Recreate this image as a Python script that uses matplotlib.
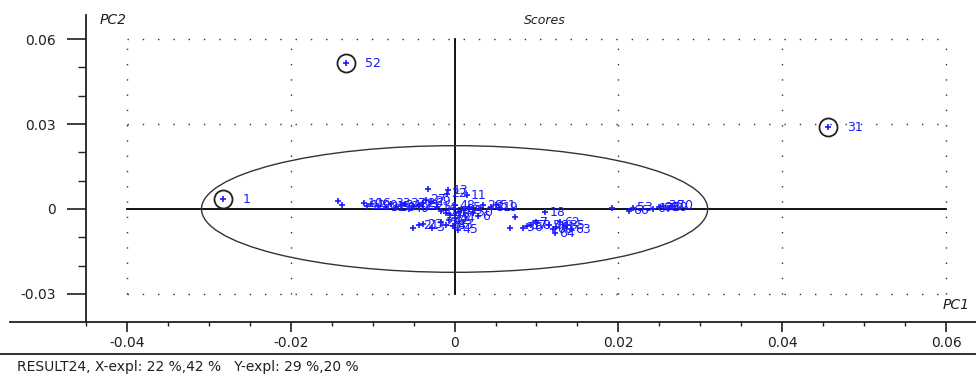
import matplotlib
matplotlib.use("Agg")
import matplotlib.pyplot as plt
from matplotlib.patches import Ellipse
from matplotlib.lines import Line2D

# ---- data ----
pc1 = [-0.0283, -0.0133, 0.0456,
       -0.0142, -0.0137, -0.0111, -0.0107, -0.0102, -0.0093, -0.0084, -0.0078,
       -0.0072, -0.0066, -0.0060, -0.0056, -0.0051, -0.0044, -0.0039, -0.0035,
       -0.0029, -0.0032, -0.0009, -0.0021, -0.0017, -0.0011, -0.0051, -0.0044,
       -0.0039, -0.0028, -0.0017, -0.0011, -0.0007, -0.0002, 0.0001, 0.0004,
       -0.0005, 0.0005, 0.0001, -0.0008, 0.0015, 0.0011, 0.0017, 0.0022,
       0.0029, 0.0035, 0.0044, 0.0050, 0.0054, 0.0068, 0.0074, 0.0083,
       0.0088, 0.0093, 0.0099, 0.0111, 0.0115, 0.0120, 0.0124, 0.0129,
       0.0135, 0.0142, 0.0123, 0.0192, 0.0213, 0.0218, 0.0242, 0.0249,
       0.0255, 0.0260, 0.0266]
pc2 = [0.0035, 0.0515, 0.0289,
       0.0028, 0.0014, 0.0021, 0.0011, 0.0018, 0.0011, 0.0007, 0.0018,
       0.0007, 0.0014, 0.0018, 0.0000, 0.0011, 0.0014, 0.0021, 0.0032,
       0.0025, 0.0071, 0.0053, 0.0007, -0.0007, -0.0014, -0.0067, -0.0057,
       -0.0053, -0.0067, -0.0046, -0.0057, -0.0039, -0.0060, -0.0032, -0.0074,
       -0.0021, -0.0011, 0.0014, 0.0067, 0.0049, -0.0004, 0.0007, -0.0014,
       -0.0025, 0.0014, 0.0007, 0.0014, 0.0004, -0.0067, -0.0028, -0.0067,
       -0.0060, -0.0057, -0.0046, -0.0011, -0.0057, -0.0071, -0.0064, -0.0046,
       -0.0060, -0.0071, -0.0085, 0.0004, -0.0007, 0.0004, 0.0000, 0.0007,
       0.0011, 0.0004, 0.0011]
labels = ["1", "52", "31",
          "", "", "10", "12", "16", "20", "32", "33",
          "39", "34", "37", "40", "41", "25", "26", "27",
          "29", "", "22", "14", "15", "17", "", "21",
          "23", "3", "24", "38", "42", "43", "44", "45",
          "46", "47", "48", "13", "11", "49", "5", "50",
          "6", "28", "8", "51", "19", "", "", "56",
          "57", "58", "7", "18", "59", "60", "61", "62",
          "35", "63", "64", "", "66", "53", "67", "68",
          "36", "69", "70"]
outliers = ["1", "52", "31"]

x_ticks = [-0.04, -0.02, 0, 0.02, 0.04, 0.06]
x_ticklabels = ["-0.04", "-0.02", "0", "0.02", "0.04", "0.06"]
y_ticks = [-0.03, 0, 0.03, 0.06]
y_ticklabels = ["-0.03", "0", "0.03", "0.06"]
footer = "RESULT24, X-expl: 22 %,42 %   Y-expl: 29 %,20 %"

W, H = 976, 379
fig = plt.figure(figsize=(W / 100, H / 100), dpi=100)
ax = fig.add_axes([86 / W, (H - 322) / H, (W - 86) / W, (322 - 15) / H])
ax.set_xlim(-0.04488, 0.06366)
ax.set_ylim(-0.03989, 0.06848)
for s in ["top", "right"]:
    ax.spines[s].set_visible(False)
for s in ["left", "bottom"]:
    ax.spines[s].set_linewidth(1.3)
    ax.spines[s].set_color("#202020")

ax.set_xticks(x_ticks)
ax.set_xticklabels(x_ticklabels)
ax.set_yticks(y_ticks)
ax.set_yticklabels(y_ticklabels)
ax.set_xticks([v / 1000 for v in range(-45, 65, 5)], minor=True)
ax.set_yticks([-0.03, -0.02, -0.01, 0.01, 0.02, 0.04, 0.05, 0.06], minor=True)
ax.tick_params(axis="x", which="major", length=7, width=1.2, pad=3, labelsize=10, colors="#202020")
ax.tick_params(axis="x", which="minor", length=3, width=1.0, colors="#202020")
ax.tick_params(axis="y", which="major", length=14, width=1.2, pad=8, labelsize=10, colors="#202020")
ax.tick_params(axis="y", which="minor", length=6, width=1.0, colors="#202020")

# dotted grid
gx0, gx1 = -0.04, 0.06
gy0, gy1 = -0.03, 0.06
for yv in [0.06, 0.03, -0.03]:
    ax.plot([gx0, gx1], [yv, yv], color="#333333", lw=1.0, linestyle=(0, (1, 10)), zorder=1)
for xv in [-0.04, -0.02, 0.02, 0.04, 0.06]:
    ax.plot([xv, xv], [gy0, gy1], color="#333333", lw=1.0, linestyle=(0, (1, 10)), zorder=1)
# crosshair
ax.plot([gx0, gx1], [0, 0], color="black", lw=1.3, zorder=2)
ax.plot([0, 0], [gy0, gy1], color="black", lw=1.3, zorder=2)

# ellipse
ax.add_patch(Ellipse((0.0, 0.0), 0.0618, 0.0447, fill=False, edgecolor="#333333", lw=1.0, zorder=2))

blue = "#1a1aff"
ax.plot(pc1, pc2, linestyle="none", marker="+", markersize=4.5, mew=1.2, color=blue, zorder=4)
for x, y, lab in zip(pc1, pc2, labels):
    if not lab:
        continue
    if lab in outliers:
        ax.plot([x], [y], marker="o", markersize=13, mfc="none", mec="#202020", mew=1.3, zorder=5)
        off = 14
    else:
        off = 3
    ax.annotate(lab, (x, y), xytext=(off, 0), textcoords="offset points",
                ha="left", va="center", fontsize=9, color=blue, zorder=6)

# texts
fig.text(100 / W, 1 - 20 / H, "PC2", fontsize=10, style="italic", ha="left", va="center", color="#202020")
fig.text(545 / W, 1 - 20 / H, "Scores", fontsize=9, style="italic", ha="center", va="center", color="#202020")
fig.text(970 / W, 1 - 305 / H, "PC1", fontsize=10, style="italic", ha="right", va="center", color="#202020")
fig.text(17 / W, 1 - 367 / H, footer, fontsize=10, ha="left", va="center", color="#202020")

# extra lines
fig.add_artist(Line2D([10 / W, 86 / W], [1 - 322 / H, 1 - 322 / H], color="#202020", lw=1.3))
fig.add_artist(Line2D([0, 1], [1 - 354 / H, 1 - 354 / H], color="#202020", lw=1.3))

fig.savefig("out.png", dpi=100)
